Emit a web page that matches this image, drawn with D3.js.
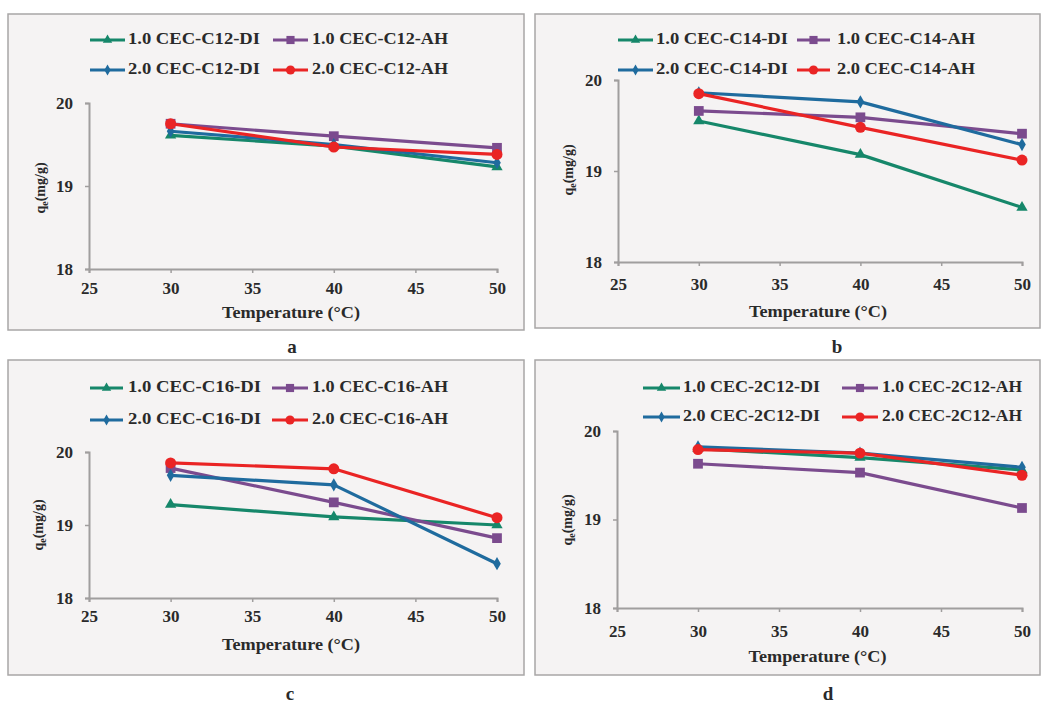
<!DOCTYPE html>
<html>
<head>
<meta charset="utf-8">
<script src="https://cdn.jsdelivr.net/npm/d3@7"></script>
<style>
  html, body { margin: 0; padding: 0; background: #ffffff; }
  svg { display: block; }
  text { font-family: "Liberation Serif", "Times New Roman", serif; font-weight: bold; fill: #2a2a2a; }
</style>
</head>
<body>
<svg id="chart" width="1043" height="703"></svg>
<script>
// ---------------- DATA ----------------
const temperatures = [30, 40, 50];
const xTickValues = [25, 30, 35, 40, 45, 50];
const yTickValues = [18, 19, 20];
const panelLetters = ["a", "b", "c", "d"];
const surfactants = ["C12", "C14", "C16", "2C12"];
const seriesPrefixes = ["1.0 CEC-", "1.0 CEC-", "2.0 CEC-", "2.0 CEC-"];
const seriesSuffixes = ["-DI", "-AH", "-DI", "-AH"];
const xAxisTitle = "Temperature  (°C)";

// panel a (C12)
const a_DI_10 = [19.61, 19.48, 19.23];
const a_AH_10 = [19.75, 19.60, 19.46];
const a_DI_20 = [19.66, 19.50, 19.28];
const a_AH_20 = [19.75, 19.47, 19.38];
// panel b (C14)
const b_DI_10 = [19.55, 19.18, 18.60];
const b_AH_10 = [19.66, 19.59, 19.41];
const b_DI_20 = [19.86, 19.76, 19.29];
const b_AH_20 = [19.85, 19.48, 19.12];
// panel c (C16)
const c_DI_10 = [19.28, 19.11, 19.00];
const c_AH_10 = [19.78, 19.31, 18.82];
const c_DI_20 = [19.68, 19.55, 18.47];
const c_AH_20 = [19.85, 19.77, 19.10];
// panel d (2C12)
const d_DI_10 = [19.80, 19.70, 19.56];
const d_AH_10 = [19.63, 19.53, 19.13];
const d_DI_20 = [19.82, 19.75, 19.59];
const d_AH_20 = [19.79, 19.75, 19.50];

const panelValues = [
  [a_DI_10, a_AH_10, a_DI_20, a_AH_20],
  [b_DI_10, b_AH_10, b_DI_20, b_AH_20],
  [c_DI_10, c_AH_10, c_DI_20, c_AH_20],
  [d_DI_10, d_AH_10, d_DI_20, d_AH_20]
];

// ---------------- STYLE / LAYOUT ----------------
const colors = ["#16876a", "#7b4b8e", "#1f6b9e", "#ea2424"];
const symbols = [d3.symbolTriangle, d3.symbolSquare, d3.symbolDiamond, d3.symbolCircle];
const symbolSizes = [55, 95, 50, 95];

const layouts = [
  { box: [8, 14, 516, 316], ax: 89, y20: 103, y18: 269, x50: 497,
    leg: { r1: 40, r2: 70, c1: [90, 125, 128, 132], c2: [273, 308, 312, 136] },
    tickY: 290, titleY: 318, ytX: 45, ytY: 188, label: [292, 353] },
  { box: [535, 14, 505, 314], ax: 618, y20: 80, y18: 262, x50: 1022,
    leg: { r1: 40, r2: 70, c1: [618, 653, 656, 132], c2: [797, 830, 837, 138] },
    tickY: 286, titleY: 317, ytX: 573, ytY: 170, label: [837, 353] },
  { box: [8, 360, 516, 315], ax: 89, y20: 452, y18: 598, x50: 497,
    leg: { r1: 388, r2: 420, c1: [90, 123, 128, 133], c2: [272, 308, 312, 136] },
    tickY: 618, titleY: 650, ytX: 43, ytY: 525, label: [290, 700] },
  { box: [535, 360, 505, 315], ax: 617, y20: 431, y18: 608, x50: 1022,
    leg: { r1: 388, r2: 417, c1: [643, 680, 683, 137], c2: [842, 878, 882, 140] },
    tickY: 633, titleY: 662, ytX: 572, ytY: 520, label: [828, 700] }
];

const svg = d3.select("#chart");

layouts.forEach((L, p) => {
  const g = svg.append("g");
  // panel box
  g.append("rect")
    .attr("x", L.box[0]).attr("y", L.box[1])
    .attr("width", L.box[2]).attr("height", L.box[3])
    .attr("fill", "#f5f3f3").attr("stroke", "#a8a6a6").attr("stroke-width", 1.5);

  const x = d3.scaleLinear().domain([25, 50]).range([L.ax, L.x50]);
  const y = d3.scaleLinear().domain([18, 20]).range([L.y18, L.y20]);

  // axes
  const xAxis = d3.axisBottom(x).tickValues(xTickValues).tickSize(4).tickFormat(d3.format("d"));
  const yAxis = d3.axisLeft(y).tickValues(yTickValues).tickSize(4).tickFormat(d3.format("d"));
  const gx = g.append("g").attr("transform", `translate(0,${L.y18})`).call(xAxis);
  const gy = g.append("g").attr("transform", `translate(${L.ax},0)`).call(yAxis);
  [gx, gy].forEach(a => {
    a.select(".domain").attr("stroke", "#a09e9e").attr("stroke-width", 2);
    a.selectAll(".tick line").attr("stroke", "#a09e9e").attr("stroke-width", 1.5);
    a.selectAll(".tick text").attr("fill", "#2a2a2a")
      .style("font-family", "'Liberation Serif', serif").style("font-weight", "bold").style("font-size", "17px");
  });
  gx.selectAll(".tick text").attr("dy", null)
    .attr("y", L.tickY - L.y18).attr("dominant-baseline", "middle");
  gy.selectAll(".tick text").attr("x", -16);

  // axis titles
  g.append("text").attr("x", (L.ax + L.x50) / 2 - 2).attr("y", L.titleY)
    .attr("text-anchor", "middle").style("font-size", "16px")
    .attr("textLength", 138).attr("lengthAdjust", "spacingAndGlyphs").text(xAxisTitle);
  const yt = g.append("text")
    .attr("transform", `translate(${L.ytX},${L.ytY}) rotate(-90)`)
    .attr("text-anchor", "middle").style("font-size", "14px");
  yt.append("tspan").text("q");
  yt.append("tspan").attr("dy", 3).style("font-size", "10px").text("e");
  yt.append("tspan").attr("dy", -3).text("(mg/g)");

  // series
  const line = d3.line().x((d, i) => x(temperatures[i])).y(d => y(d));
  panelValues[p].forEach((vals, s) => {
    g.append("path").datum(vals)
      .attr("d", line).attr("fill", "none")
      .attr("stroke", colors[s]).attr("stroke-width", 3.2).attr("stroke-linejoin", "round");
    g.selectAll(null).data(vals).enter().append("path")
      .attr("transform", (d, i) => `translate(${x(temperatures[i])},${y(d)})`)
      .attr("d", d3.symbol().type(symbols[s]).size(symbolSizes[s]))
      .attr("fill", colors[s]);
  });

  // legend
  const legendItems = [
    { s: 0, row: L.leg.r1, col: L.leg.c1 },
    { s: 1, row: L.leg.r1, col: L.leg.c2 },
    { s: 2, row: L.leg.r2, col: L.leg.c1 },
    { s: 3, row: L.leg.r2, col: L.leg.c2 }
  ];
  legendItems.forEach(it => {
    g.append("line").attr("x1", it.col[0]).attr("x2", it.col[1])
      .attr("y1", it.row).attr("y2", it.row)
      .attr("stroke", colors[it.s]).attr("stroke-width", 3.2);
    g.append("path")
      .attr("transform", `translate(${(it.col[0] + it.col[1]) / 2},${it.row})`)
      .attr("d", d3.symbol().type(symbols[it.s]).size(symbolSizes[it.s] * 0.7))
      .attr("fill", colors[it.s]);
    g.append("text").attr("x", it.col[2]).attr("y", it.row)
      .attr("dominant-baseline", "middle").style("font-size", "16px")
      .attr("textLength", it.col[3]).attr("lengthAdjust", "spacingAndGlyphs")
      .text(seriesPrefixes[it.s] + surfactants[p] + seriesSuffixes[it.s]);
  });

  // panel letter
  svg.append("text").attr("x", L.label[0]).attr("y", L.label[1])
    .attr("text-anchor", "middle").style("font-size", "19px").text(panelLetters[p]);
});
</script>
</body>
</html>
